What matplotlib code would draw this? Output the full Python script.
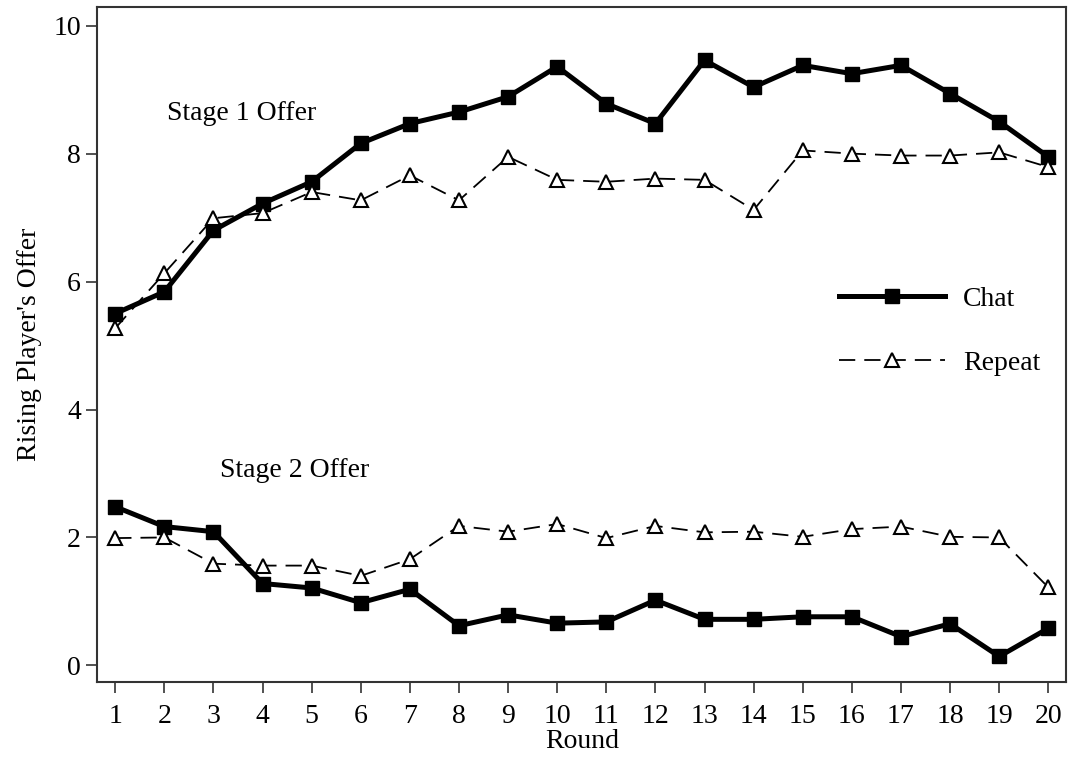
import matplotlib
matplotlib.use("Agg")
import matplotlib.pyplot as plt
import numpy as np

plt.rcParams['font.family'] = ['Liberation Serif', 'DejaVu Serif']

rounds = np.arange(1, 21)
chat_stage1 = [5.50, 5.84, 6.80, 7.22, 7.56, 8.16, 8.47, 8.65, 8.89, 9.36,
               8.78, 8.47, 9.46, 9.04, 9.38, 9.25, 9.38, 8.94, 8.50, 7.95]
repeat_stage1 = [5.27, 6.13, 6.99, 7.07, 7.40, 7.27, 7.66, 7.27, 7.95, 7.59,
                 7.56, 7.61, 7.59, 7.12, 8.05, 8.00, 7.97, 7.97, 8.02, 7.79]
chat_stage2 = [2.48, 2.17, 2.09, 1.28, 1.21, 0.98, 1.19, 0.62, 0.79, 0.66,
               0.68, 1.02, 0.72, 0.72, 0.76, 0.76, 0.45, 0.65, 0.14, 0.58]
repeat_stage2 = [1.99, 2.00, 1.59, 1.56, 1.56, 1.40, 1.66, 2.18, 2.09, 2.21,
                 1.99, 2.18, 2.08, 2.09, 2.01, 2.13, 2.17, 2.01, 2.00, 1.22]

fig = plt.figure(figsize=(10.7, 7.6), dpi=100)
ax = fig.add_axes([0.0907, 0.1026, 0.906, 0.888])

chat_kw = dict(color='black', lw=3.6, marker='s', ms=10.5)
rep_kw = dict(color='black', lw=1.3, ls=(0, (9, 5)), marker='^', ms=10,
              mfc='white', mec='black', mew=1.5)

ax.plot(rounds, chat_stage1, label='Chat', **chat_kw)
ax.plot(rounds, repeat_stage1, label='Repeat', **rep_kw)
ax.plot(rounds, chat_stage2, **chat_kw)
ax.plot(rounds, repeat_stage2, **rep_kw)

ax.set_xlim(0.63, 20.37)
ax.set_ylim(-0.26, 10.29)
ax.set_xticks(rounds)
ax.set_yticks([0, 2, 4, 6, 8, 10])
ax.tick_params(direction='out', length=8, width=1.2, labelsize=20, color='#333333')
ax.tick_params(axis='x', pad=8)
for s in ax.spines.values():
    s.set_linewidth(1.5)
    s.set_color('#333333')

ax.set_xlabel('Round', fontsize=20, labelpad=0)
ax.set_ylabel("Rising Player's Offer", fontsize=20, labelpad=8)

ax.text(2.06, 8.63, 'Stage 1 Offer', fontsize=20, va='center')
ax.text(3.13, 3.05, 'Stage 2 Offer', fontsize=20, va='center')

ax.legend(loc='center left', bbox_to_anchor=(0.74, 0.52), frameon=False,
          fontsize=20, handlelength=3.8, labelspacing=1.4, handletextpad=0.65)

fig.savefig('out.png', dpi=100)
